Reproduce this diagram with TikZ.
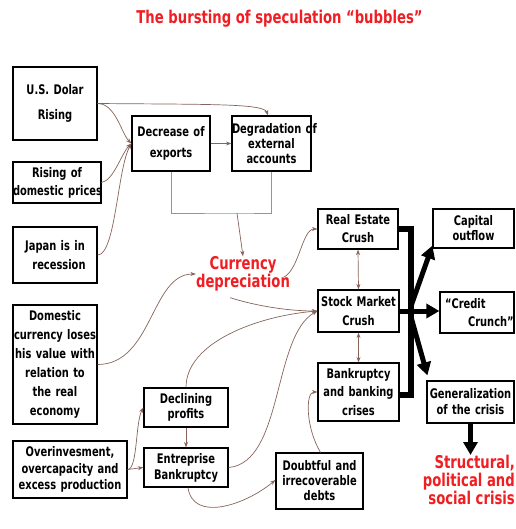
\documentclass[tikz,border=0pt]{standalone}
\usepackage{fontspec}
\setmainfont{DejaVu Sans}[FakeStretch=0.75]
\usetikzlibrary{arrows.meta}
\definecolor{lnk}{RGB}{135,100,90}
\definecolor{brkc}{RGB}{175,140,130}
\definecolor{rd}{RGB}{240,30,35}
\begin{document}
\begin{tikzpicture}[x=1pt,y=1pt,
 box/.style={draw=black, line width=1.2pt, inner sep=0pt, align=center},
 bs/.style={font={\fontsize{13.2}{#1}\selectfont\bfseries}},
 redt/.style={text=rd, font={\fontsize{17.6}{15}\selectfont\bfseries}, inner sep=0pt, align=center},
 conn/.style={draw=lnk, line width=0.7pt, -{Stealth[length=5.5pt,width=4pt]}},
 dconn/.style={draw=lnk, line width=0.7pt, {Stealth[length=5.5pt,width=4pt]}-{Stealth[length=5.5pt,width=4pt]}},
 bar/.style={draw=black, line width=6pt},
 barr/.style={draw=black, line width=5pt, -{Triangle[length=13pt,width=14pt]}},
]
\useasboundingbox (0,0) rectangle (515,-529);
\fill[white] (0,0) rectangle (515,-529);

\node[redt, font={\fontsize{17.6}{18}\selectfont\bfseries}] (title) at (279.5,-19) {The bursting of speculation “bubbles”};

\node[box,bs=17,text width=84pt,minimum height=73pt] (usd) at (55,-103.5) {\mbox{U.S. Dolar}\\[8pt]Rising};
\node[box,bs=18,text width=88pt,minimum height=41pt] (dom) at (57,-182.5) {Rising of\\\mbox{domestic prices}};
\node[box,bs=19,text width=84pt,minimum height=56pt] (jap) at (55,-255) {Japan is in\\\hspace*{8pt}recession};
\node[box,bs=19,text width=84pt,minimum height=119pt] (cur) at (55,-364.5) {Domestic\\\mbox{currency loses}\\\mbox{his value with}\\relation to\\the real\\economy};
\node[box,bs=16.5,text width=114pt,minimum height=57pt] (ovr) at (70,-469.5) {Overinvesment,\\overcapacity and\\excess production};
\node[box,bs=17,text width=78pt,minimum height=55pt] (dec) at (171,-143.5) {Decrease of\\[4pt]exports};
\node[box,bs=15,text width=79pt,minimum height=55pt] (deg) at (271.5,-143.5) {\mbox{Degradation of}\\external\\accounts};
\node[box,bs=18,text width=80pt,minimum height=40pt] (res) at (358,-229) {Real Estate\\Crush};
\node[box,bs=19,text width=81pt,minimum height=42pt] (stk) at (358.5,-311) {\mbox{Stock Market}\\Crush};
\node[box,bs=18.5,text width=81pt,minimum height=58pt] (bnk) at (358.5,-392) {Bankruptcy\\and banking\\crises};
\node[box,bs=15,text width=81pt,minimum height=39pt] (cap) at (473.5,-228.5) {Capital\\outflow};
\node[box,bs=18,text width=74pt,minimum height=41pt,align=left] (crd) at (477,-312.5) {\hspace*{5pt}“Credit\\\hspace*{28pt}Crunch”};
\node[box,bs=16,text width=87pt,minimum height=42pt] (gen) at (470.5,-402) {\mbox{Generalization}\\of the crisis};
\node[box,bs=15.5,text width=84pt,minimum height=39pt] (dpr) at (186,-407.5) {Declining\\profits};
\node[box,bs=16,text width=84pt,minimum height=39pt] (ent) at (186,-467.5) {Entreprise\\Bankruptcy};
\node[box,bs=15,text width=87pt,minimum height=56pt] (dbt) at (319.5,-481) {Doubtful and\\irrecoverable\\debts};

\node[redt] (cd) at (243,-274) {Currency\\depreciation};
\node[redt, font={\fontsize{17.6}{18}\selectfont\bfseries}, align=right, anchor=north east] (sc) at (515,-455) {Structural,\\political and\\social crisis};

% thin connectors
\draw[conn] (usd.east) .. controls +(110,-1) and +(-4,12) .. ([xshift=-3.5pt]deg.north);
\draw[conn] (usd.east) .. controls +(18,0) and +(-10,10) .. (dec.west);
\draw[conn] (dom.east) .. controls +(12,2) and +(-10,-10) .. (dec.west);
\draw[conn] (jap.east) .. controls +(18,0) and +(-14,-25) .. (dec.west);
\draw[conn] (dec.east) -- (deg.west);
\coordinate (brk) at (237,-213);
\draw[draw=brkc, line width=0.7pt] (dec.south) |- (brk) -| (deg.south);
\draw[conn] (brk) -- (cd.north);

\draw[conn] (cur.east) .. controls +(55,0) and +(-45,0) .. (cd.west);
\draw[conn] ([shift={(-6pt,-3pt)}]cd.east) .. controls +(15,8) and +(-15,0) .. (res.west);
\draw[conn] ([xshift=-13pt,yshift=-6pt]cd.south) .. controls +(25,-8) and +(-30,0) .. (stk.west);
\draw[conn] (dpr.north) .. controls +(0,45) and +(-60,-5) .. (stk.west);
\draw[conn] (ent.east) .. controls +(55,5) and +(-45,-25) .. (stk.west);
\draw[conn] (ovr.east) .. controls +(10,0) and +(-8,-15) .. (dpr.west);
\draw[conn] (ovr.east) -- (ent.west);
\draw[conn] (dpr.south) -- (ent.north);
\draw[conn] ([xshift=2pt]ent.south) .. controls +(5,-35) and +(-30,-25) .. ([yshift=1pt]dbt.west);
\draw[conn] ([xshift=1pt]dbt.north) .. controls +(-15,25) and +(-12,0) .. (bnk.west);
\draw[dconn] (res.south) -- (stk.north);
\draw[dconn] (stk.south) -- (bnk.north);

% thick connectors
\coordinate (bt) at (411,-229);
\coordinate (bb) at (411,-395);
\coordinate (jn) at (411,-311);
\draw[bar] (res.east) -- (bt) -- (bb) -- ([yshift=-3pt]bnk.east);
\draw[barr] (stk.east) -- (stk.east -| crd.west);
\draw[barr] ([yshift=5pt]jn) -- ([yshift=3pt]cap.south west);
\draw[barr] ([yshift=-6pt]jn) -- ([shift={(1pt,5pt)}]gen.north west);
\draw[barr] (gen.south) -- (gen.south |- sc.north);
\end{tikzpicture}
\end{document}
